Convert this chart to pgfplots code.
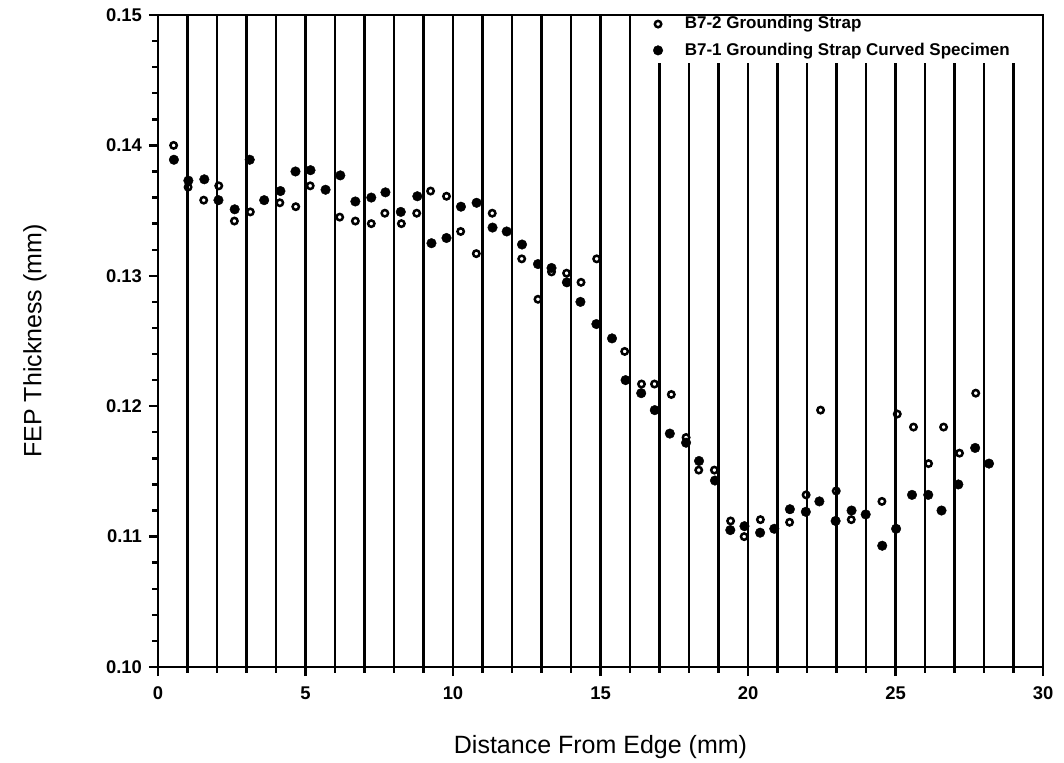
\documentclass[border=0pt]{standalone}
\usepackage{fontspec}
\setmainfont{Liberation Sans}
\usepackage{pgfplots}
\usepackage{pgfplotstable}
\pgfplotsset{compat=1.18}
\pgfplotstableread{
x y
0.53 0.1400
1.02 0.1368
1.55 0.1358
2.06 0.1369
2.59 0.1342
3.13 0.1349
4.13 0.1356
4.67 0.1353
5.16 0.1369
6.16 0.1345
6.69 0.1342
7.23 0.1340
7.69 0.1348
8.25 0.1340
8.77 0.1348
9.24 0.1365
9.78 0.1361
10.26 0.1334
10.79 0.1317
11.33 0.1348
12.33 0.1313
12.88 0.1282
13.34 0.1303
13.85 0.1302
14.34 0.1295
14.87 0.1313
15.82 0.1242
16.39 0.1217
16.83 0.1217
17.40 0.1209
17.90 0.1176
18.33 0.1151
18.86 0.1151
19.41 0.1112
19.87 0.1100
20.42 0.1113
21.41 0.1111
21.97 0.1132
22.46 0.1197
22.99 0.1135
23.50 0.1113
24.54 0.1127
25.06 0.1194
25.61 0.1184
26.12 0.1156
26.63 0.1184
27.17 0.1164
27.72 0.1210
}\strapB
\pgfplotstableread{
x y
0.54 0.1389
1.03 0.1373
1.57 0.1374
2.05 0.1358
2.60 0.1351
3.11 0.1389
3.60 0.1358
4.15 0.1365
4.66 0.1380
5.17 0.1381
5.68 0.1366
6.18 0.1377
6.69 0.1357
7.23 0.1360
7.71 0.1364
8.23 0.1349
8.79 0.1361
9.27 0.1325
9.78 0.1329
10.27 0.1353
10.80 0.1356
11.34 0.1337
11.82 0.1334
12.34 0.1324
12.88 0.1309
13.34 0.1306
13.86 0.1295
14.32 0.1280
14.86 0.1263
15.39 0.1252
15.85 0.1220
16.38 0.1210
16.84 0.1197
17.35 0.1179
17.90 0.1172
18.34 0.1158
18.88 0.1143
19.40 0.1105
19.88 0.1108
20.41 0.1103
20.89 0.1106
21.42 0.1121
21.96 0.1119
22.42 0.1127
22.97 0.1112
23.51 0.1120
23.99 0.1117
24.55 0.1093
25.02 0.1106
25.56 0.1132
26.11 0.1132
26.56 0.1120
27.13 0.1140
27.70 0.1168
28.17 0.1156
}\strapA
\begin{document}
\begin{tikzpicture}
\useasboundingbox (-79pt,-47.5pt) rectangle (453pt,333.5pt);
\begin{axis}[
  at={(0,0)}, anchor=south west,
  scale only axis, width=442.5pt, height=326pt,
  xmin=0, xmax=30, ymin=0.10, ymax=0.15,
  xtick={0,5,10,15,20,25,30}, xticklabels={0,5,10,15,20,25,30},
  minor x tick num=4,
  ytick={0.10,0.11,0.12,0.13,0.14,0.15},
  yticklabels={0.10,0.11,0.12,0.13,0.14,0.15},
  minor y tick num=4,
  tick pos=left, tick align=outside,
  major tick length=4.5pt, minor tick length=2.8pt,
  every tick/.style={black, line width=1.2pt},
  axis line style={line width=1.35pt},
  xmajorgrids, xminorgrids,
  major grid style={black, line width=1.25pt},
  minor grid style={black, line width=1.25pt},
  tick label style={font=\fontsize{9.2}{11}\selectfont\bfseries},
  xticklabel style={yshift=-2pt},
  label style={font=\fontsize{12.5}{15}\selectfont},
  xlabel={Distance From Edge (mm)},
  ylabel={FEP Thickness (mm)},
  xlabel style={at={(axis description cs:0.5,-0.1227)}, anchor=center},
  ylabel style={at={(axis description cs:-0.139,0.5)}, anchor=center},
  legend style={at={(axis cs:16.58,0.15)}, anchor=north west, yshift=2.5pt,
    draw=none, fill=none,
    font=\fontsize{8.5}{10}\selectfont\bfseries, row sep=1.5pt, inner sep=1pt},
  legend cell align=left,
  legend image code/.code={\path[draw=none,fill=none] (0cm,-0.1cm) rectangle (0.55cm,0.1cm); \draw[#1] plot coordinates {(0.15cm,0cm)};},
]
\fill[white] (axis cs:16.05,0.1463) rectangle (axis cs:29.95,0.1499);
\addplot[only marks, mark=o, mark size=1.6pt, mark options={line width=1.25pt, black}] table[x=x,y=y] {\strapB};
\addlegendentry{B7-2 Grounding Strap}
\addplot[only marks, mark=*, mark size=2.4pt, mark options={black, fill=black, line width=0.2pt}] table[x=x,y=y] {\strapA};
\addlegendentry{B7-1 Grounding Strap Curved Specimen}
\end{axis}
\end{tikzpicture}
\end{document}
